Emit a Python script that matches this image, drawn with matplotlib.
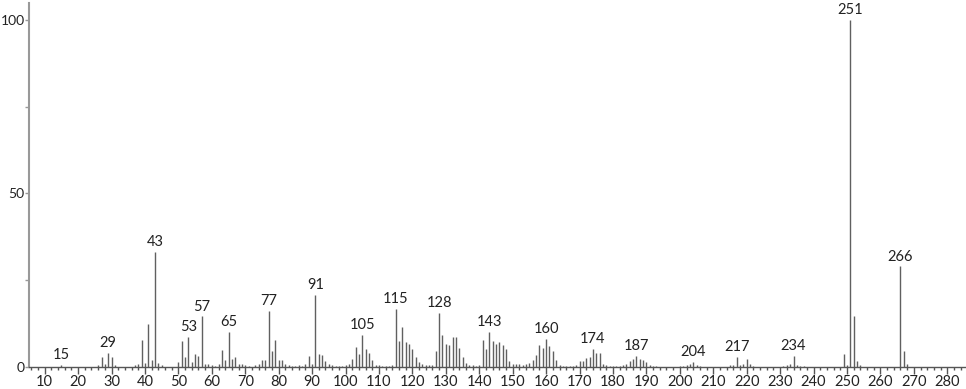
import matplotlib
matplotlib.use("Agg")
import matplotlib.pyplot as plt
from matplotlib.ticker import MultipleLocator

# --- Spectrum data (m/z, relative abundance) ---
mz = [15, 26, 27, 28, 29, 30, 31, 37, 38, 39, 40, 41, 42, 43, 44, 45,
      50, 51, 52, 53, 54, 55, 56, 57, 58, 59, 60, 61, 62, 63, 64, 65, 66, 67,
      68, 69, 70, 71, 73, 74, 75, 76, 77, 78, 79, 80, 81, 82, 83, 84, 85, 86,
      87, 88, 89, 90, 91, 92, 93, 94, 95, 96, 97, 98, 99, 100, 101, 102, 103,
      104, 105, 106, 107, 108, 109, 110, 111, 112, 113, 114, 115, 116, 117,
      118, 119, 120, 121, 122, 123, 124, 125, 126, 127, 128, 129, 130, 131,
      132, 133, 134, 135, 136, 137, 138, 139, 140, 141, 142, 143, 144, 145,
      146, 147, 148, 149, 150, 151, 152, 153, 154, 155, 156, 157, 158, 159,
      160, 161, 162, 163, 164, 165, 166, 167, 168, 169, 170, 171, 172, 173,
      174, 175, 176, 177, 178, 179, 180, 181, 182, 183, 184, 185, 186, 187,
      188, 189, 190, 191, 192, 193, 200, 201, 202, 203, 204, 205, 206, 215,
      216, 217, 218, 219, 220, 221, 222, 231, 232, 233, 234, 235, 236, 237,
      249, 250, 251, 252, 253, 254, 266, 267, 268]
abundance = [0.5, 0.6, 2.9, 1.0, 4.1, 2.8, 0.5, 0.5, 0.8, 7.7, 1.1, 12.3, 1.9,
             33.2, 1.1, 0.5,
             1.3, 7.4, 2.8, 8.7, 1.3, 3.8, 3.2, 14.6, 1.0, 0.8, 0.5, 0.4, 0.9,
             5.0, 2.1, 10.1, 2.4, 2.9,
             0.8, 0.8, 0.5, 0.3, 0.5, 0.8, 1.9, 1.9, 16.1, 4.7, 7.8, 2.1, 2.0,
             0.8, 0.5, 0.3, 0.4, 0.5,
             0.4, 1.0, 3.3, 1.0, 20.8, 3.8, 3.5, 1.8, 0.8, 0.5, 0.4, 0.4, 0.3,
             0.5, 0.9, 2.4, 5.8,
             3.8, 9.2, 5.2, 3.9, 2.1, 0.7, 0.5, 0.3, 0.3, 0.4, 0.5, 16.7, 7.5,
             11.5,
             7.3, 6.5, 5.1, 3.0, 1.5, 0.8, 0.5, 0.5, 0.5, 4.6, 15.6, 9.2, 6.7,
             6.3,
             8.6, 8.6, 5.5, 2.9, 1.2, 0.6, 0.5, 0.4, 0.5, 7.7, 5.2, 10.2, 7.4,
             6.6,
             7.1, 6.4, 5.3, 1.8, 0.9, 0.9, 0.8, 0.7, 1.0, 1.2, 2.0, 3.5, 6.3,
             5.5,
             8.1, 5.9, 4.7, 1.9, 0.5, 0.4, 0.4, 0.4, 0.3, 0.5, 1.8, 1.8, 2.6,
             2.9,
             5.3, 4.1, 4.1, 1.0, 0.7, 0.4, 0.4, 0.3, 0.4, 0.5, 1.0, 1.6, 2.4,
             3.2,
             2.4, 1.9, 1.4, 0.5, 0.4, 0.3, 0.3, 0.4, 0.5, 1.0, 1.5, 0.5, 0.4,
             0.5,
             0.6, 3.0, 0.5, 0.8, 2.2, 1.0, 0.4, 0.4, 0.5, 0.9, 3.2, 0.6, 0.4,
             0.3,
             3.7, 0.5, 100.0, 14.6, 1.7, 0.5, 29.0, 4.6, 0.8]
labeled = [15, 29, 43, 53, 57, 65, 77, 91, 105, 115, 128, 143, 160, 174, 187,
           204, 217, 234, 251, 266]

plt.rcParams['font.family'] = ['Lato', 'DejaVu Sans']

fig = plt.figure(figsize=(9.66, 3.89), dpi=100)
ax = fig.add_axes([0.030, 0.0566, 0.970, 0.9354])

ax.vlines(mz, 0, abundance, colors='#606060', linewidth=1.0)

for m, a in zip(mz, abundance):
    if m in labeled:
        ax.annotate(str(m), (m, a), xytext=(0, 2), textcoords='offset points',
                    ha='center', va='bottom', fontsize=10.5, color='#222222')

ax.set_xlim(5.3, 285.6)
ax.set_ylim(0, 104.8)

ax.xaxis.set_major_locator(MultipleLocator(10))
ax.xaxis.set_minor_locator(MultipleLocator(2))
ax.set_yticks([0, 50, 100])
ax.yaxis.set_minor_locator(MultipleLocator(25))

for s in ['top', 'right']:
    ax.spines[s].set_visible(False)
ax.spines['left'].set_color('#999999')
ax.spines['left'].set_linewidth(1.5)
ax.spines['bottom'].set_color('#555555')
ax.spines['bottom'].set_linewidth(1.0)

ax.tick_params(axis='x', which='major', length=5, width=1, color='#555555',
               labelsize=10.5, pad=1, labelcolor='#222222')
ax.tick_params(axis='x', which='minor', length=2, width=1, color='#555555')
ax.tick_params(axis='y', which='major', length=3, width=1, color='#999999',
               labelsize=10, pad=0, labelcolor='#222222')
ax.tick_params(axis='y', which='minor', length=3, width=1, color='#999999')

fig.savefig('out.png', dpi=100)
